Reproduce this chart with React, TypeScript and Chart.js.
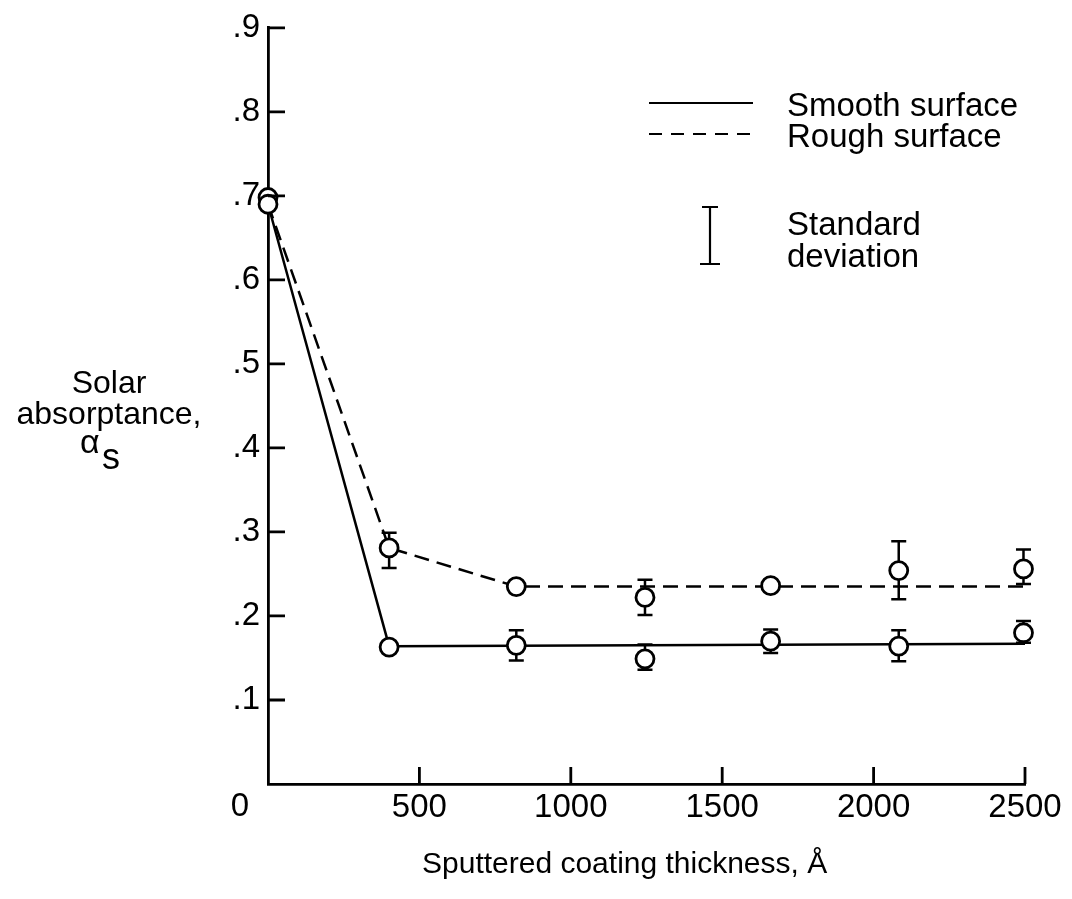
import React, { useEffect, useRef } from 'react';
import { Chart, registerables } from 'chart.js';

Chart.register(...registerables);

// ---- data ----
const thickness = [0, 400, 820, 1245, 1660, 2083, 2495];
const smoothMean = [0.69, 0.163, 0.165, 0.149, 0.17, 0.164, 0.18];
const smoothLow = [null, null, 0.147, 0.136, 0.156, 0.146, 0.168];
const smoothHigh = [null, null, 0.183, 0.166, 0.184, 0.183, 0.194];
const roughMean = [0.698, 0.281, 0.235, 0.222, 0.236, 0.254, 0.256];
const roughLow = [null, 0.257, null, 0.201, null, 0.22, 0.238];
const roughHigh = [null, 0.299, null, 0.243, null, 0.289, 0.279];

const smoothFitX = [0, 400, 2500];
const smoothFitY = [0.69, 0.164, 0.167];
const roughFitX = [0, 400, 820, 2500];
const roughFitY = [0.69, 0.281, 0.235, 0.235];

const xTickValues = [0, 500, 1000, 1500, 2000, 2500];
const yTickValues = [0, 0.1, 0.2, 0.3, 0.4, 0.5, 0.6, 0.7, 0.8, 0.9];

const seriesLabels = ['Smooth surface', 'Rough surface'];
const errorLegendLines = ['Standard', 'deviation'];
const yTitleLines = ['Solar', 'absorptance,'];
const yTitleSymbol = 'α';
const yTitleSub = 's';
const xTitle = 'Sputtered coating thickness, Å';

const FONT = "'Liberation Sans', Arial, Helvetica, sans-serif";

const toPoints = (xs: number[], ys: (number | null)[]) =>
  xs.map((x, i) => ({ x, y: ys[i] as number }));

const decorPlugin = {
  id: 'decor',
  beforeDatasetsDraw(chart: any) {
    const ctx = chart.ctx;
    const xs = chart.scales.x;
    const ys = chart.scales.y;
    ctx.save();
    ctx.strokeStyle = '#000';
    ctx.lineWidth = 2.5;
    const cap = 7.5;
    const drawBars = (lo: (number | null)[], hi: (number | null)[]) => {
      thickness.forEach((t, i) => {
        const l = lo[i];
        const h = hi[i];
        if (l == null || h == null) return;
        const px = xs.getPixelForValue(t);
        const pl = ys.getPixelForValue(l);
        const ph = ys.getPixelForValue(h);
        ctx.beginPath();
        ctx.moveTo(px, pl);
        ctx.lineTo(px, ph);
        ctx.moveTo(px - cap, pl);
        ctx.lineTo(px + cap, pl);
        ctx.moveTo(px - cap, ph);
        ctx.lineTo(px + cap, ph);
        ctx.stroke();
      });
    };
    drawBars(smoothLow, smoothHigh);
    drawBars(roughLow, roughHigh);
    ctx.restore();
  },
  afterDraw(chart: any) {
    const ctx = chart.ctx;
    const xs = chart.scales.x;
    const ys = chart.scales.y;
    const area = chart.chartArea;
    ctx.save();
    ctx.strokeStyle = '#000';
    ctx.fillStyle = '#000';
    // inward tick marks
    ctx.lineWidth = 2.8;
    ctx.beginPath();
    yTickValues.forEach((v) => {
      if (v === 0) return;
      const py = ys.getPixelForValue(v);
      ctx.moveTo(area.left, py);
      ctx.lineTo(area.left + 17, py);
    });
    xTickValues.forEach((v) => {
      if (v === 0) return;
      const px = xs.getPixelForValue(v);
      ctx.moveTo(px, area.bottom);
      ctx.lineTo(px, area.bottom - 17);
    });
    ctx.stroke();

    // corner "0" label
    ctx.font = `33px ${FONT}`;
    ctx.textAlign = 'center';
    ctx.textBaseline = 'alphabetic';
    ctx.fillText('0', area.left - 28, 816);

    // y title
    ctx.font = `32px ${FONT}`;
    ctx.textAlign = 'center';
    ctx.fillText(yTitleLines[0], 109, 393);
    ctx.fillText(yTitleLines[1], 109, 424);
    ctx.textAlign = 'left';
    ctx.font = `34px ${FONT}`;
    ctx.fillText(yTitleSymbol, 80, 453);
    ctx.font = `36px ${FONT}`;
    ctx.fillText(yTitleSub, 102, 469);

    // x title
    ctx.font = `30px ${FONT}`;
    ctx.textAlign = 'left';
    ctx.fillText(xTitle, 422, 873);

    // legend
    ctx.lineWidth = 2.2;
    ctx.beginPath();
    ctx.moveTo(649, 103);
    ctx.lineTo(753, 103);
    ctx.stroke();
    ctx.setLineDash([13, 9]);
    ctx.beginPath();
    ctx.moveTo(649, 134);
    ctx.lineTo(753, 134);
    ctx.stroke();
    ctx.setLineDash([]);
    ctx.lineWidth = 2.2;
    ctx.beginPath();
    ctx.moveTo(710, 207);
    ctx.lineTo(710, 264);
    ctx.moveTo(702, 207);
    ctx.lineTo(718, 207);
    ctx.moveTo(700, 264);
    ctx.lineTo(720, 264);
    ctx.stroke();

    ctx.font = `33px ${FONT}`;
    ctx.textAlign = 'left';
    ctx.fillText(seriesLabels[0], 787, 116);
    ctx.fillText(seriesLabels[1], 787, 147);
    ctx.fillText(errorLegendLines[0], 787, 235);
    ctx.fillText(errorLegendLines[1], 787, 267);
    ctx.restore();
  },
};

export default function App() {
  const canvasRef = useRef<HTMLCanvasElement | null>(null);

  useEffect(() => {
    if (!canvasRef.current) return;
    const chart = new Chart(canvasRef.current, {
      type: 'scatter',
      data: {
        datasets: [
          {
            label: 'Smooth points',
            data: toPoints(thickness, smoothMean),
            showLine: false,
            pointStyle: 'circle',
            pointRadius: 9,
            pointBorderWidth: 2.8,
            pointBackgroundColor: '#fff',
            pointBorderColor: '#000',
            clip: false,
          },
          {
            label: 'Rough points',
            data: toPoints(thickness, roughMean),
            showLine: false,
            pointStyle: 'circle',
            pointRadius: 9,
            pointBorderWidth: 2.8,
            pointBackgroundColor: '#fff',
            pointBorderColor: '#000',
            clip: false,
          },
          {
            label: seriesLabels[0],
            data: toPoints(smoothFitX, smoothFitY),
            showLine: true,
            pointRadius: 0,
            borderColor: '#000',
            borderWidth: 2.5,
            tension: 0,
            clip: false,
          },
          {
            label: seriesLabels[1],
            data: toPoints(roughFitX, roughFitY),
            showLine: true,
            pointRadius: 0,
            borderColor: '#000',
            borderWidth: 2.5,
            borderDash: [15, 8],
            tension: 0,
            clip: false,
          },
        ],
      },
      options: {
        animation: false,
        responsive: false,
        maintainAspectRatio: false,
        layout: { padding: { left: 0, top: 23, right: 47, bottom: 0 } },
        plugins: {
          legend: { display: false },
          tooltip: { enabled: false },
          title: { display: false },
        },
        scales: {
          x: {
            type: 'linear',
            min: 0,
            max: 2500,
            afterFit: (scale: any) => {
              scale.height = 899 - 784;
            },
            afterBuildTicks: (scale: any) => {
              scale.ticks = xTickValues.map((value) => ({ value }));
            },
            ticks: {
              color: '#000',
              font: { family: FONT, size: 33 },
              padding: 4,
              maxRotation: 0,
              autoSkip: false,
              callback: (v: any) => (Number(v) === 0 ? '' : String(v)),
            },
            grid: { display: true, drawOnChartArea: false, drawTicks: false, color: '#000' },
            border: { display: true, color: '#000', width: 2.8 },
          },
          y: {
            type: 'linear',
            min: 0,
            max: 0.9,
            afterFit: (scale: any) => {
              scale.width = 268;
            },
            afterBuildTicks: (scale: any) => {
              scale.ticks = yTickValues.map((value) => ({ value }));
            },
            ticks: {
              color: '#000',
              font: { family: FONT, size: 33 },
              padding: 8,
              autoSkip: false,
              callback: (v: any) => {
                const n = Math.round(Number(v) * 10) / 10;
                if (n === 0) return '';
                return n.toFixed(1).replace(/^0/, '');
              },
            },
            grid: { display: true, drawOnChartArea: false, drawTicks: false, color: '#000' },
            border: { display: true, color: '#000', width: 2.8 },
          },
        },
      },
      plugins: [decorPlugin],
    });
    return () => chart.destroy();
  }, []);

  return (
    <div style={{ position: 'fixed', left: 0, top: 0, width: 1072, height: 899, background: '#fff' }}>
      <canvas ref={canvasRef} width={1072} height={899} style={{ display: 'block', width: 1072, height: 899 }} />
    </div>
  );
}
